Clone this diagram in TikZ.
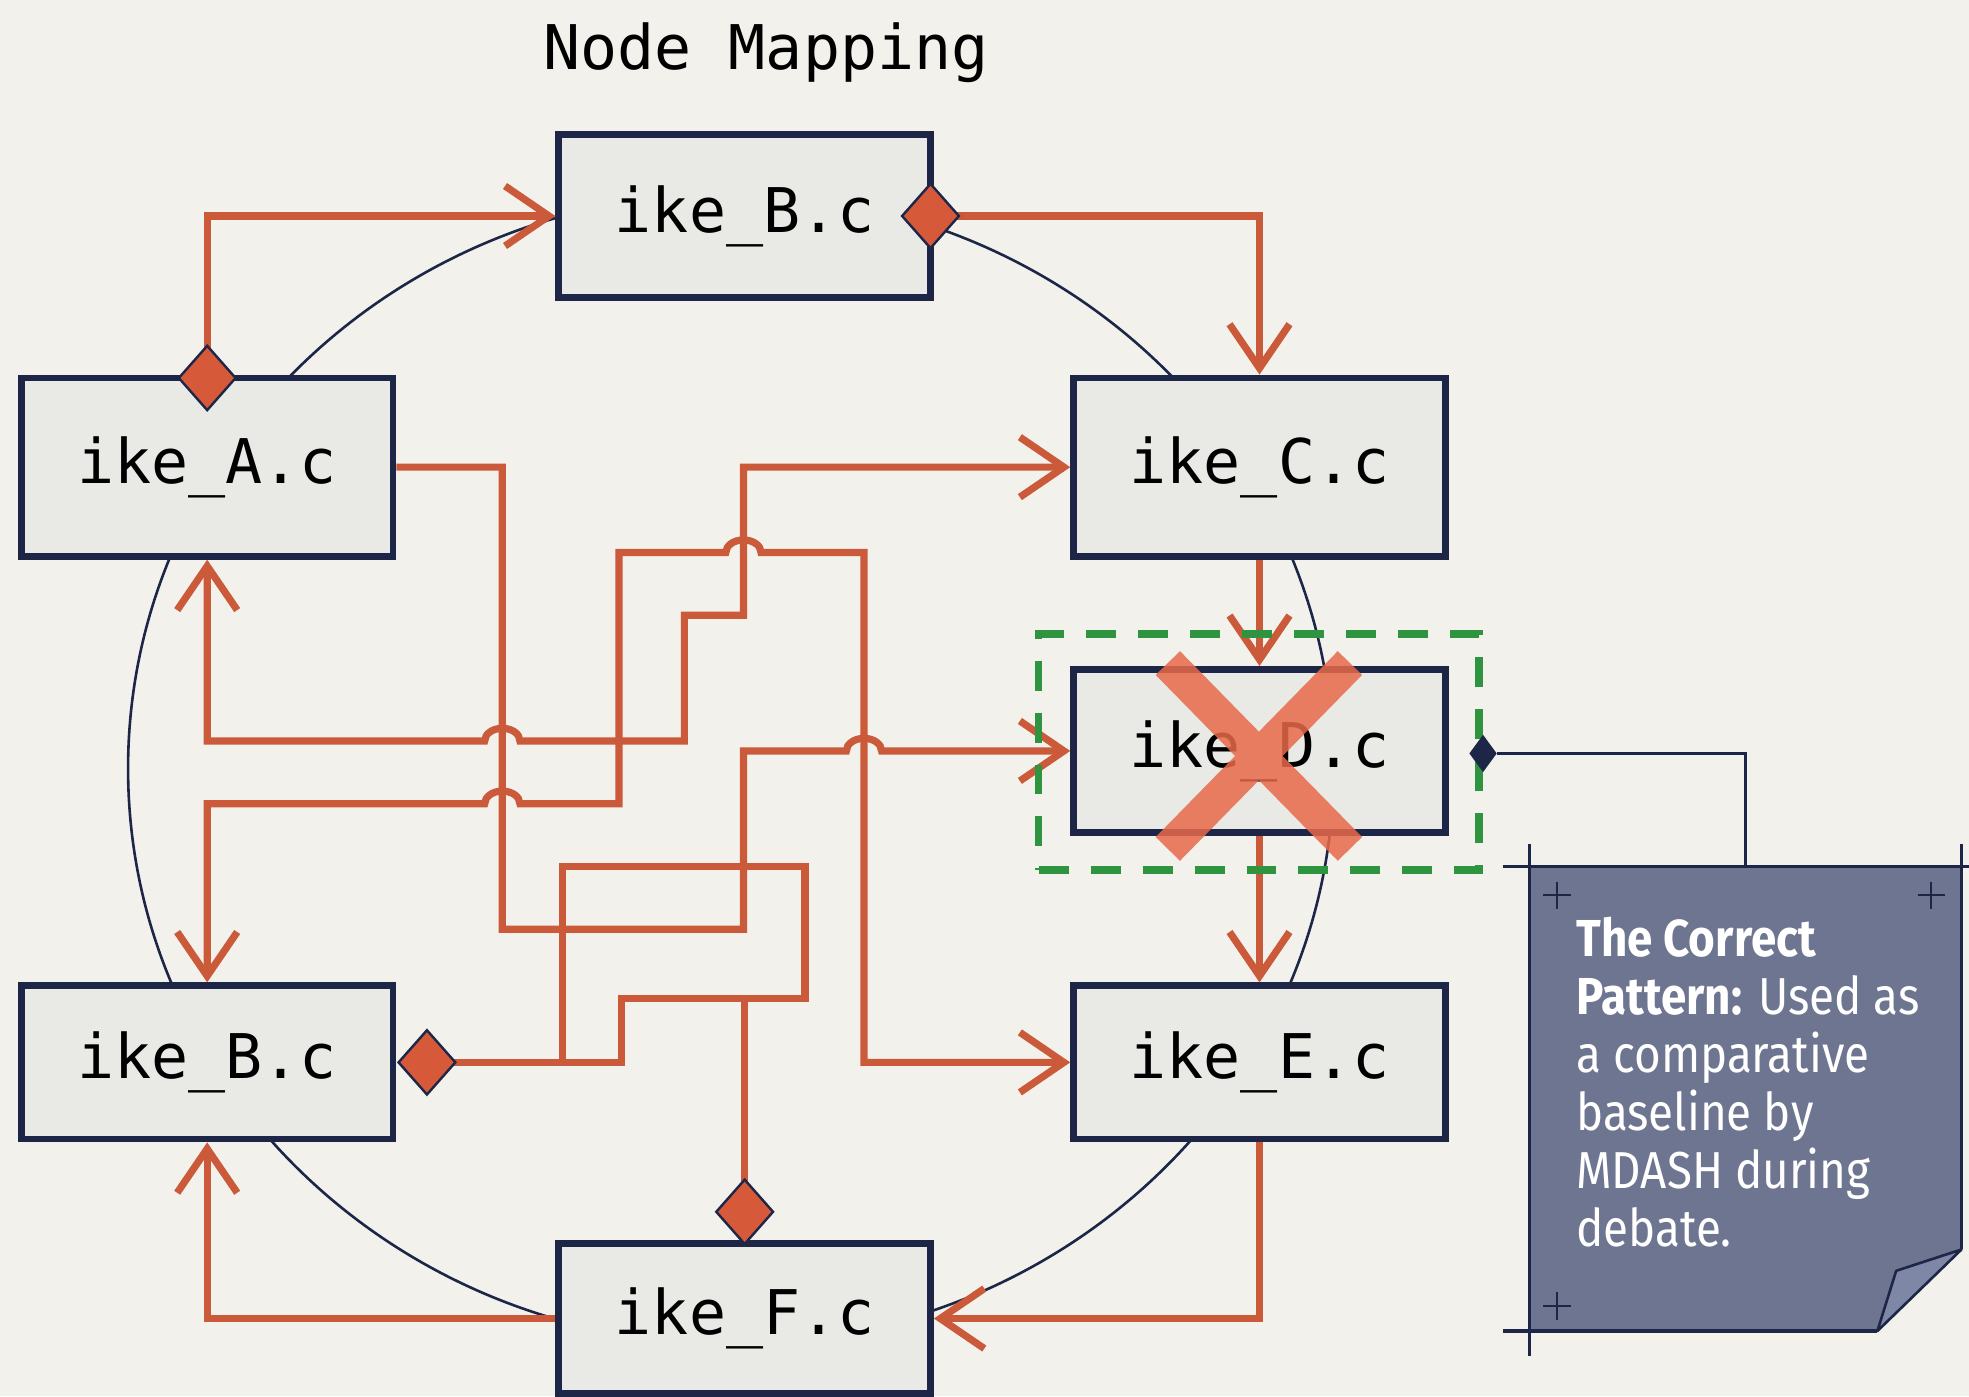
\documentclass[tikz,border=0pt]{standalone}
\usepackage{fontspec}
\usetikzlibrary{arrows.meta,shapes.geometric}
\newfontfamily\labelfont{DejaVu Sans Mono}
\newfontfamily\notefont{Fira Sans}[FakeStretch=0.88]
\definecolor{bgc}{HTML}{F2F1EC}
\definecolor{boxfill}{HTML}{E9E9E5}
\definecolor{navy}{HTML}{1E2648}
\definecolor{org}{HTML}{CB5A3B}
\definecolor{dia}{HTML}{D65A3A}
\definecolor{grn}{HTML}{2E9440}
\definecolor{slate}{HTML}{6D7590}
\definecolor{flap}{HTML}{7E87A6}
\definecolor{xcol}{HTML}{E8694A}
\tikzset{
  mybarb/.tip={Straight Barb[length=22pt,width=30pt]},
  filebox/.style={rectangle, draw=navy, line width=3.4pt, fill=boxfill, minimum width=296*0.6279pt,
    text=black, font=\labelfont\fontsize{30.8pt}{36pt}\selectfont, inner sep=0pt},
  conn/.style={draw=org, line width=3.6pt},
  hump/.style={},
  odia/.style={diamond, draw=navy, line width=1.2pt, fill=dia, minimum width=46*0.6279pt,
    minimum height=52*0.6279pt, inner sep=0pt},
  cropline/.style={draw=navy, line width=1.8pt},
  plusmark/.style={draw=navy, line width=1pt},
}
\def\hmp{arc[start angle=180,end angle=0,x radius=8.8pt,y radius=6.3pt]}
\begin{document}
\begin{tikzpicture}[x=0.6279pt,y=-0.6279pt]
\fill[bgc] (0,0) rectangle (1568,1112);
\useasboundingbox (0,0) rectangle (1568,1112);

% background ring
\draw[navy, line width=1.3pt] (582,612) ellipse [x radius=301.4pt, y radius=287.6pt];

% title
\node[font=\labelfont\fontsize{30.8pt}{36pt}\selectfont, text=black] (title) at (610,42) {Node Mapping};

% file boxes
\node[filebox, minimum height=130*0.6279pt] (Bt) at (593,172) {ike\_B.c};
\node[filebox, minimum height=142*0.6279pt] (A) at (165,372) {ike\_A.c};
\node[filebox, minimum height=142*0.6279pt] (C) at (1003,372) {ike\_C.c};
\node[filebox, minimum height=130*0.6279pt] (D) at (1003,598) {ike\_D.c};
\node[filebox, minimum height=122*0.6279pt] (Bl) at (165,846) {ike\_B.c};
\node[filebox, minimum height=122*0.6279pt] (E) at (1003,846) {ike\_E.c};
\node[filebox, minimum height=120*0.6279pt] (F) at (593,1050) {ike\_F.c};

% diamond anchors (positions only)
\coordinate (ADp) at (165,301);
\coordinate (BDp) at (741,172);
\coordinate (BlDp) at (340,846);
\coordinate (FDp) at (593,965);

% outer ring connectors
\draw[conn,-mybarb] (ADp) |- (Bt.west);
\draw[conn,-mybarb] (BDp) -| (C.north);
\draw[conn,-mybarb] (C.south) -- (D.north);
\draw[conn,-mybarb] (D.south) -- (E.north);
\draw[conn,-mybarb] (E.south) |- (F.east);
\draw[conn,-mybarb] (F.west) -| (Bl.south);

% crossing connectors
\draw[conn,mybarb-mybarb] (A.south) -- (165,590) -- (386,590)
  \hmp -- (545,590) -- (545,490) -- (592,490) -- (592,372) -- (C.west);
\draw[conn,mybarb-mybarb] (Bl.north) -- (165,640) -- (386,640)
  \hmp -- (493,640) -- (493,440) -- (578,440)
  \hmp -- (688,440) -- (688,846) -- (E.west);
\draw[conn,-mybarb] (A.east) -- (400,372) -- (400,740) -- (592,740) -- (592,598) -- (674,598)
  \hmp -- (D.west);
\draw[conn] (BlDp) -- (495,846) -- (495,795) -- (641,795) -- (641,690) -- (448,690) -- (448,846);
\draw[conn] (FDp) -- (593,795);

% diamonds
\node[odia] (AD) at (ADp) {};
\node[odia] (BD) at (BDp) {};
\node[odia] (BlD) at (BlDp) {};
\node[odia] (FD) at (FDp) {};

% highlight around D
\node[draw=grn, line width=3.8pt, dash pattern=on 15pt off 11pt, minimum width=351*0.6279pt,
  minimum height=188*0.6279pt, inner sep=0pt] (hl) at (1002.5,599) {};

% cross over D
\draw[xcol, opacity=0.85, line width=17pt] (930,528) -- (1075,676) (1075,528) -- (930,676);

% note
\fill[slate] (1218,690) -- (1562,690) -- (1562,995) -- (1495,1060) -- (1218,1060) -- cycle;
\filldraw[fill=flap, draw=navy, line width=1.3pt, line join=round] (1495,1060) -- (1510,1012) -- (1562,995) -- cycle;
\draw[cropline] (1197,690) -- (1568,690);
\draw[cropline] (1218,672) -- (1218,1080);
\draw[cropline] (1562,672) -- (1562,995);
\draw[cropline] (1197,1060) -- (1495,1060);
\draw[plusmark] (1240,702) -- (1240,724) (1229,713) -- (1251,713);
\draw[plusmark] (1538,702) -- (1538,724) (1527,713) -- (1549,713);
\draw[plusmark] (1240,1029) -- (1240,1051) (1229,1040) -- (1251,1040);
\node[anchor=north west, text=white, align=left, inner sep=0pt,
  font=\notefont\fontsize{26pt}{29pt}\selectfont] (notetext) at (1255,730)
  {\textbf{The Correct}\\\textbf{Pattern:} Used as\\a comparative\\baseline by\\MDASH during\\debate.};

% note connector
\node[diamond, fill=navy, minimum width=22*0.6279pt, minimum height=30*0.6279pt, inner sep=0pt] (ND) at (1181,600) {};
\coordinate (NT) at (1390,690);
\draw[navy, line width=1.5pt] (ND.east) -| (NT);
\end{tikzpicture}
\end{document}
